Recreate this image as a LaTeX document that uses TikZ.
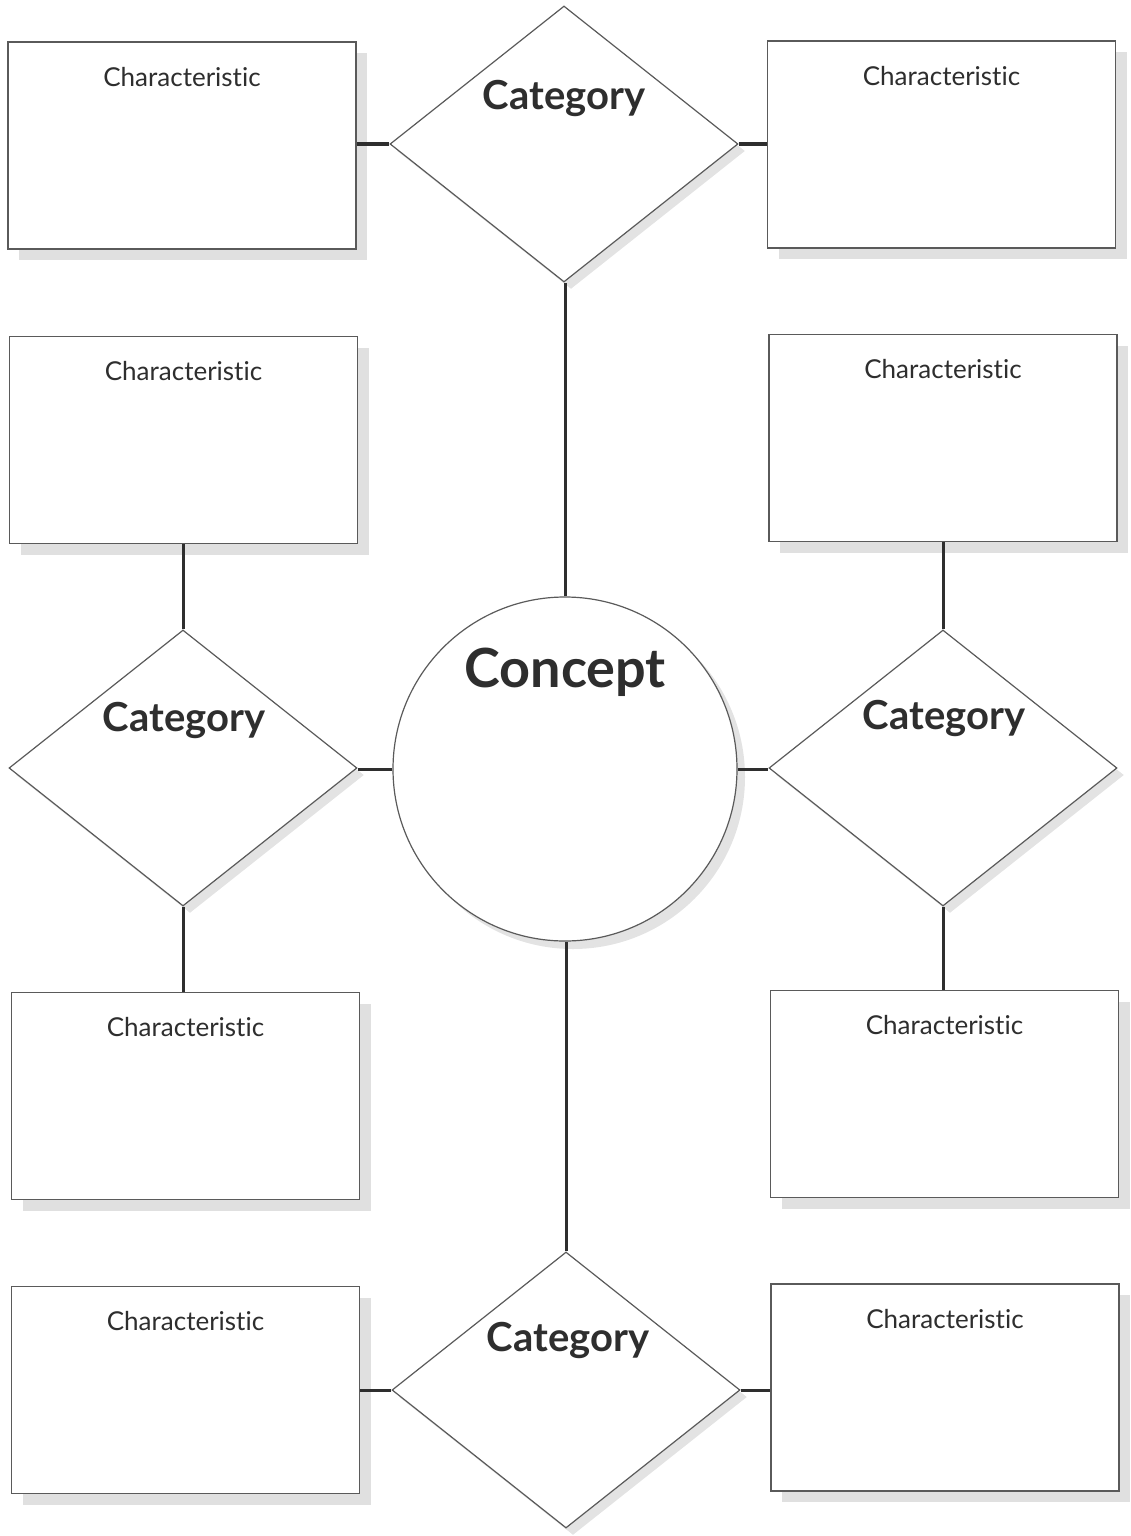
\documentclass[tikz,border=0pt]{standalone}
\usepackage{fontspec}
\setmainfont{Lato}[Ligatures={NoCommon,NoRare}]
\usetikzlibrary{shapes.geometric,shadows}
\definecolor{ink}{HTML}{2E2E2E}
\definecolor{edge}{HTML}{5A5A5A}
\tikzset{
  sh/.style={general shadow={shadow xshift=11pt, shadow yshift=-11pt, fill=black!12}},
  charbox/.style={draw=edge, line width=1.3pt, fill=white, rectangle, minimum width=348pt, minimum height=207pt, inner sep=0pt, sh},
  catdia/.style={draw=edge, line width=1.2pt, fill=white, diamond, minimum width=348pt, minimum height=276pt, inner sep=0pt,
    general shadow={shadow xshift=7pt, shadow yshift=-7pt, fill=black!11}},
  concirc/.style={draw=edge, line width=1.2pt, fill=white, circle, minimum size=344pt, inner sep=0pt,
    general shadow={shadow xshift=8pt, shadow yshift=-8pt, fill=black!11}},
  chartext/.style={font=\fontsize{26}{31}\selectfont, text=ink, anchor=north, yshift=-22pt},
  cattext/.style={font=\fontsize{40}{48}\selectfont\bfseries, text=ink},
  conn/.style={draw=ink, line width=3pt}
}
\begin{document}
\begin{tikzpicture}[x=1pt,y=-1pt]
\useasboundingbox (0,0) rectangle (1130,1536);
% boxes
\node[charbox, label={[chartext]north:Characteristic}] (B1) at (182,145.5) {};
\node[charbox, label={[chartext]north:Characteristic}] (B2) at (941.5,144.5) {};
\node[charbox, label={[chartext]north:Characteristic}] (B3) at (183.5,440) {};
\node[charbox, label={[chartext]north:Characteristic}] (B4) at (943,438) {};
\node[charbox, label={[chartext]north:Characteristic}] (B5) at (185.5,1096) {};
\node[charbox, label={[chartext]north:Characteristic}] (B6) at (944.5,1094) {};
\node[charbox, label={[chartext]north:Characteristic}] (B7) at (185.5,1390) {};
\node[charbox, label={[chartext]north:Characteristic}] (B8) at (945,1387.5) {};
% diamonds
\node[catdia] (D1) at (564,144) {};
\node[catdia] (D2) at (183,768) {};
\node[catdia] (D3) at (943,768) {};
\node[catdia] (D4) at (566,1390) {};
% circle
\node[concirc] (C) at (565,769) {};
% labels
\node[cattext] (t1) at (564,98) {Category};
\node[cattext] (t2) at (184,720) {Category};
\node[cattext] (t3) at (944,718) {Category};
\node[cattext] (t4) at (568,1340) {Category};
\node[font=\fontsize{54}{62}\selectfont\bfseries, text=ink] (tc) at (565,672) {Concept};
% connectors
\draw[conn] (D1.west) -- (D1.west -| B1.east);
\draw[conn] (D1.east) -- (D1.east -| B2.west);
\draw[conn] (C.north) -- (C.north |- D1.south);
\draw[conn] (D2.north) -- (D2.north |- B3.south);
\draw[conn] (D2.south) -- (D2.south |- B5.north);
\draw[conn] (C.west) -- (C.west -| D2.east);
\draw[conn] (C.east) -- (C.east -| D3.west);
\draw[conn] (D3.north) -- (D3.north |- B4.south);
\draw[conn] (D3.south) -- (D3.south |- B6.north);
\draw[conn] (D4.north) -- (D4.north |- C.south);
\draw[conn] (D4.west) -- (D4.west -| B7.east);
\draw[conn] (D4.east) -- (D4.east -| B8.west);
\end{tikzpicture}
\end{document}
